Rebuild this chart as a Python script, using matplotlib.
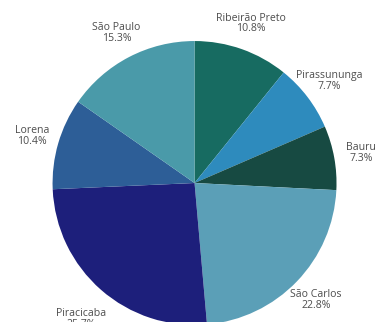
import matplotlib.pyplot as plt

# Participação por campus
cidades = ["Ribeirão Preto", "Pirassununga", "Bauru", "São Carlos",
           "Piracicaba", "Lorena", "São Paulo"]
percentuais = [10.8, 7.7, 7.3, 22.8, 25.7, 10.4, 15.3]
cores = ["#176b61", "#2e8bbd", "#174a42", "#5b9fb7",
         "#1d1f7b", "#2d5e97", "#4a9aa9"]

plt.rcParams["font.family"] = ["Open Sans", "DejaVu Sans"]

fig = plt.figure(figsize=(3.8, 3.22), dpi=100)
ax = fig.add_axes([0, 0, 1, 1])

rotulos = [f"{c}\n{p:.1f}%" for c, p in zip(cidades, percentuais)]
wedges, textos = ax.pie(percentuais, labels=rotulos, colors=cores,
                        startangle=90, counterclock=False,
                        labeldistance=1.19,
                        wedgeprops={"linewidth": 0},
                        textprops={"fontsize": 7.6, "color": "#4d4d4d",
                                   "linespacing": 0.95})
for t in textos:
    t.set_horizontalalignment("center")
    t.set_verticalalignment("center")
# Piracicaba fica um pouco mais afastado
textos[4].set_position((textos[4].get_position()[0] * 1.02,
                        textos[4].get_position()[1] * 1.07))

ax.set_aspect("equal")
ax.set_xlim(-1.37, 1.306)
ax.set_ylim(-0.979, 1.289)
ax.axis("off")

fig.savefig("out.png", dpi=100)
